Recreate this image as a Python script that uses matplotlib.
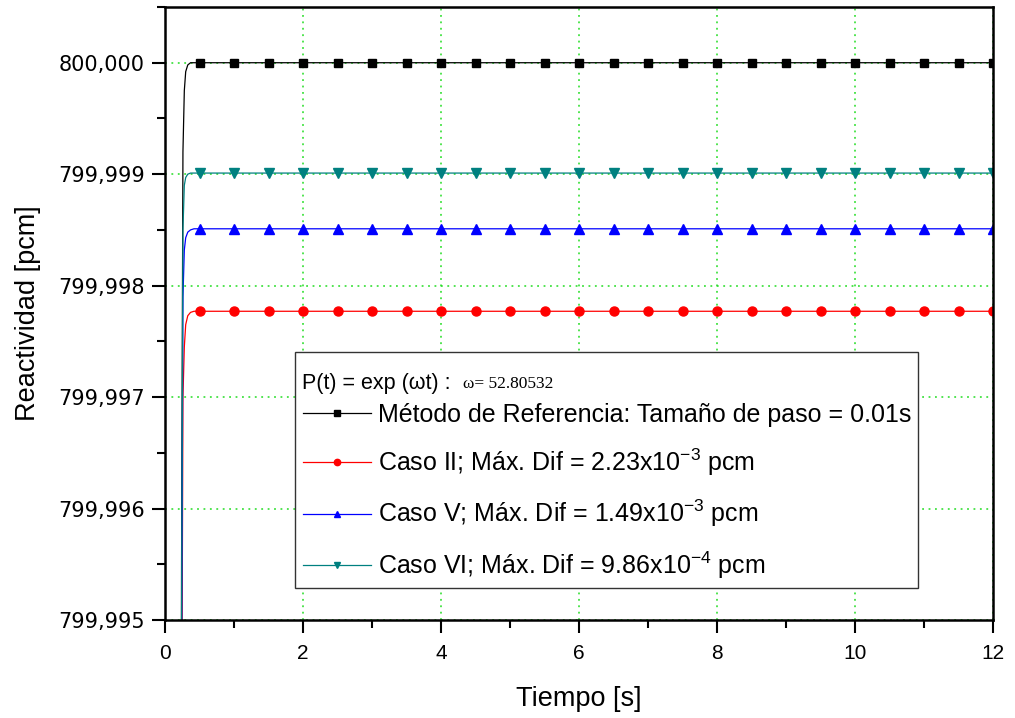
import numpy as np
import matplotlib
matplotlib.use("Agg")
import matplotlib.pyplot as plt
from matplotlib.ticker import MultipleLocator, FuncFormatter

plt.rcParams['font.family'] = ['Liberation Sans', 'DejaVu Sans']
plt.rcParams['mathtext.fontset'] = 'custom'
plt.rcParams['mathtext.rm'] = 'Liberation Sans'
plt.rcParams['mathtext.it'] = 'Liberation Sans:italic'

# Datos
t_rise = [0.20, 0.22, 0.24, 0.26, 0.28, 0.30, 0.33, 0.37, 0.42]
t_marks = list(np.arange(0.5, 12.01, 0.5))

ref_rise = [799.980, 799.9900, 799.9955, 799.99920, 799.99975, 799.99992, 799.99998, 800.00000, 800.00000]
caso2_rise = [799.978, 799.9880, 799.9935, 799.99700, 799.99745, 799.99765, 799.99773, 799.99776, 799.99777]
caso5_rise = [799.979, 799.9890, 799.9945, 799.99790, 799.99832, 799.99843, 799.99848, 799.99850, 799.99851]
caso6_rise = [799.979, 799.9890, 799.9950, 799.99850, 799.99890, 799.99897, 799.99900, 799.99901, 799.99901]

ref_plateau = 800.00000
caso2_plateau = 799.99777
caso5_plateau = 799.99851
caso6_plateau = 799.99901

labels = [
    "Método de Referencia: Tamaño de paso = 0.01s",
    r"Caso II; Máx. Dif = 2.23x10$^{\mathrm{-3}}$ pcm",
    r"Caso V; Máx. Dif = 1.49x10$^{\mathrm{-3}}$ pcm",
    r"Caso VI; Máx. Dif = 9.86x10$^{\mathrm{-4}}$ pcm",
]
colors = ['#000000', '#ff0000', '#0000ff', '#008080']
markers = ['s', 'o', '^', 'v']
msizes = [6, 6.5, 7, 7]

series = [(ref_rise, ref_plateau), (caso2_rise, caso2_plateau),
          (caso5_rise, caso5_plateau), (caso6_rise, caso6_plateau)]

W, H = 1015, 718
fig = plt.figure(figsize=(W/100, H/100), dpi=100)
ax = fig.add_axes([165/W, 1-620/H, (993-165)/W, (620-7)/H])

for (rise, plat), c, m, ms, lab in zip(series, colors, markers, msizes, labels):
    t = t_rise + t_marks
    y = rise + [plat] * len(t_marks)
    ax.plot(t, y, color=c, lw=0.9, marker=m, ms=ms,
            markevery=slice(len(t_rise), None), label=lab)

ax.set_xlim(0, 12)
ax.set_ylim(799.995, 800.0005)
ax.xaxis.set_major_locator(MultipleLocator(2))
ax.xaxis.set_minor_locator(MultipleLocator(1))
ax.yaxis.set_major_locator(MultipleLocator(0.001))
ax.yaxis.set_minor_locator(MultipleLocator(0.0005))
ax.yaxis.set_major_formatter(FuncFormatter(lambda v, p: f"{v:.3f}".replace('.', ',')))

ax.grid(True, which='major', color='#22dd22', ls=(0, (1.2, 3)), lw=1.1)

for s in ax.spines.values():
    s.set_linewidth(1.8)
ax.tick_params(which='major', direction='out', length=9.5, width=1.5)
ax.tick_params(which='minor', direction='out', length=5.5, width=1.5)
ax.tick_params(axis='x', labelsize=15, pad=8)
ax.tick_params(axis='y', pad=5)
for lbl in ax.get_yticklabels():
    lbl.set_fontfamily('DejaVu Sans')
    lbl.set_fontsize(15)

ax.set_xlabel("Tiempo [s]", fontsize=19.5, labelpad=16)
ax.set_ylabel("Reactividad [pcm]", fontsize=19.5, labelpad=12)

title = "P(t) = exp (ωt) :"
leg = ax.legend(loc='upper left', bbox_to_anchor=(295/W, 1-352/H),
                bbox_transform=fig.transFigure, borderaxespad=0,
                fontsize=18, title=title, title_fontsize=15.5,
                alignment='left', fancybox=False, edgecolor='#333333',
                framealpha=1, handlelength=2.75, handletextpad=0.25,
                labelspacing=0.8, borderpad=0.3, markerscale=0.7)
leg.get_frame().set_linewidth(1.0)
# menos espacio entre titulo y primera entrada
leg._legend_box.sep = 6

# altura de una linea del titulo, luego espacio extra arriba
fig.canvas.draw()
h1 = leg.get_title().get_window_extent().height
leg.get_title().set_text("\n" + title)
leg.get_title().set_linespacing(0.55)
fig.canvas.draw()
bb = leg.get_title().get_window_extent()
fig.text((bb.x1 + 12)/W, (bb.y0 + h1/2)/H, "ω= 52.80532",
         family='Liberation Serif', fontsize=12.5, va='center', ha='left')

fig.savefig("out.png", dpi=100)
